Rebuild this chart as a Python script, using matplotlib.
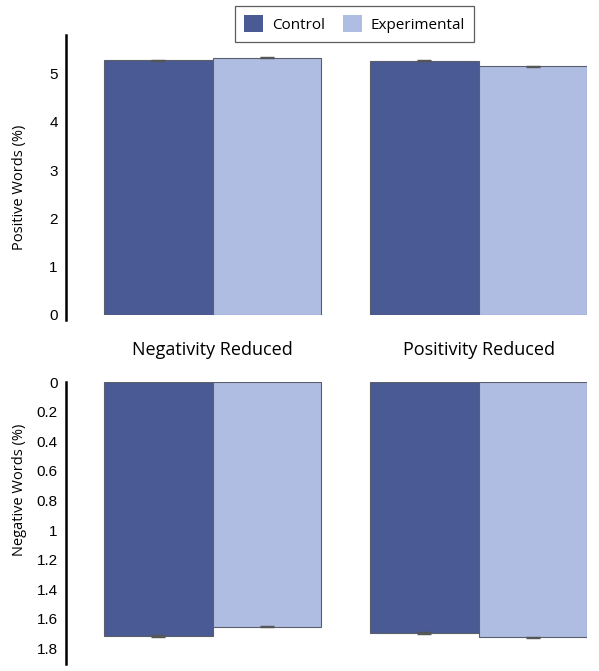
import matplotlib
matplotlib.use("Agg")
import matplotlib.pyplot as plt
import numpy as np
from matplotlib.patches import Patch

conditions = ["Negativity Reduced", "Positivity Reduced"]
groups = ["Control", "Experimental"]

positive_vals = [[5.276, 5.326], [5.27, 5.15]]
positive_err = [[0.01, 0.01], [0.012, 0.012]]
negative_vals = [[1.716, 1.652], [1.698, 1.725]]
negative_err = [[0.005, 0.004], [0.006, 0.005]]

pos_ticks = [0, 1, 2, 3, 4, 5]
neg_ticks = [0, 0.2, 0.4, 0.6, 0.8, 1, 1.2, 1.4, 1.6, 1.8]
neg_tick_labels = ["0", "0.2", "0.4", "0.6", "0.8", "1", "1.2", "1.4", "1.6", "1.8"]

colors = ["#4a5a94", "#b0bde3"]
edge = "#5a5f6a"

W, H = 599, 671
fig = plt.figure(figsize=(W / 100, H / 100), dpi=100)

def px_axes(x0, x1, y0, y1):
    return fig.add_axes([x0 / W, 1 - y1 / H, (x1 - x0) / W, (y1 - y0) / H])

AX_L, AX_R = 66, 587
ax_top = px_axes(AX_L, AX_R, 35, 315)
ax_bot = px_axes(AX_L, AX_R, 382, 664)

unit = 266.0
bw = 108.5 / unit
centers = np.array([0, 1])
tick_font = dict(family=["Liberation Sans", "DejaVu Sans"], size=11)
label_font = ["Open Sans", "DejaVu Sans"]

def draw(ax, vals, errs):
    vals = np.array(vals)
    errs = np.array(errs)
    for j in range(2):
        xs = centers + (j - 0.5) * bw
        ax.bar(xs, vals[:, j], width=bw, color=colors[j], edgecolor=edge,
               linewidth=0.8, yerr=errs[:, j],
               error_kw=dict(ecolor="#555555", elinewidth=0.8, capsize=5, capthick=1.0))
    ax.set_xlim((AX_L - 212.7) / unit, (AX_R - 212.7) / unit)
    ax.set_xticks([])
    for s in ["top", "right", "bottom"]:
        ax.spines[s].set_visible(False)
    ax.spines["left"].set_linewidth(1.8)
    ax.tick_params(axis="y", length=0, pad=6)

draw(ax_top, positive_vals, positive_err)
ax_top.set_ylim(0, 5.8)
ax_top.set_yticks(pos_ticks)
ax_top.set_yticklabels([str(t) for t in pos_ticks], **tick_font)
ax_top.spines["left"].set_bounds(-0.1, 5.8)

draw(ax_bot, negative_vals, negative_err)
ax_bot.set_ylim(1.905, 0)
ax_bot.set_yticks(neg_ticks)
ax_bot.set_yticklabels(neg_tick_labels, **tick_font)

ax_top.set_ylabel("Positive Words (%)", fontsize=10.5, family=label_font)
ax_bot.set_ylabel("Negative Words (%)", fontsize=10.5, family=label_font)
lx = (27 - AX_L) / (AX_R - AX_L)
ax_top.yaxis.set_label_coords(lx, (315 - 187) / 280)
ax_bot.yaxis.set_label_coords(lx, (664 - 490) / 282)

for c, name in zip(centers, conditions):
    ax_bot.text(c, -0.215, name, ha="center", va="center", fontsize=13,
                family=label_font)

handles = [Patch(facecolor=colors[j], edgecolor="none", label=groups[j]) for j in range(2)]
leg = fig.legend(handles=handles, loc="center", bbox_to_anchor=(354.5 / W, 1 - 24 / H),
                 ncol=2, frameon=True, fancybox=False,
                 prop=dict(family=label_font, size=11),
                 handlelength=1.25, handleheight=1.35, columnspacing=1.2, handletextpad=0.55,
                 borderpad=0.6)
leg.get_frame().set_edgecolor("#333333")
leg.get_frame().set_linewidth(0.9)

fig.savefig("out.png", dpi=100)
